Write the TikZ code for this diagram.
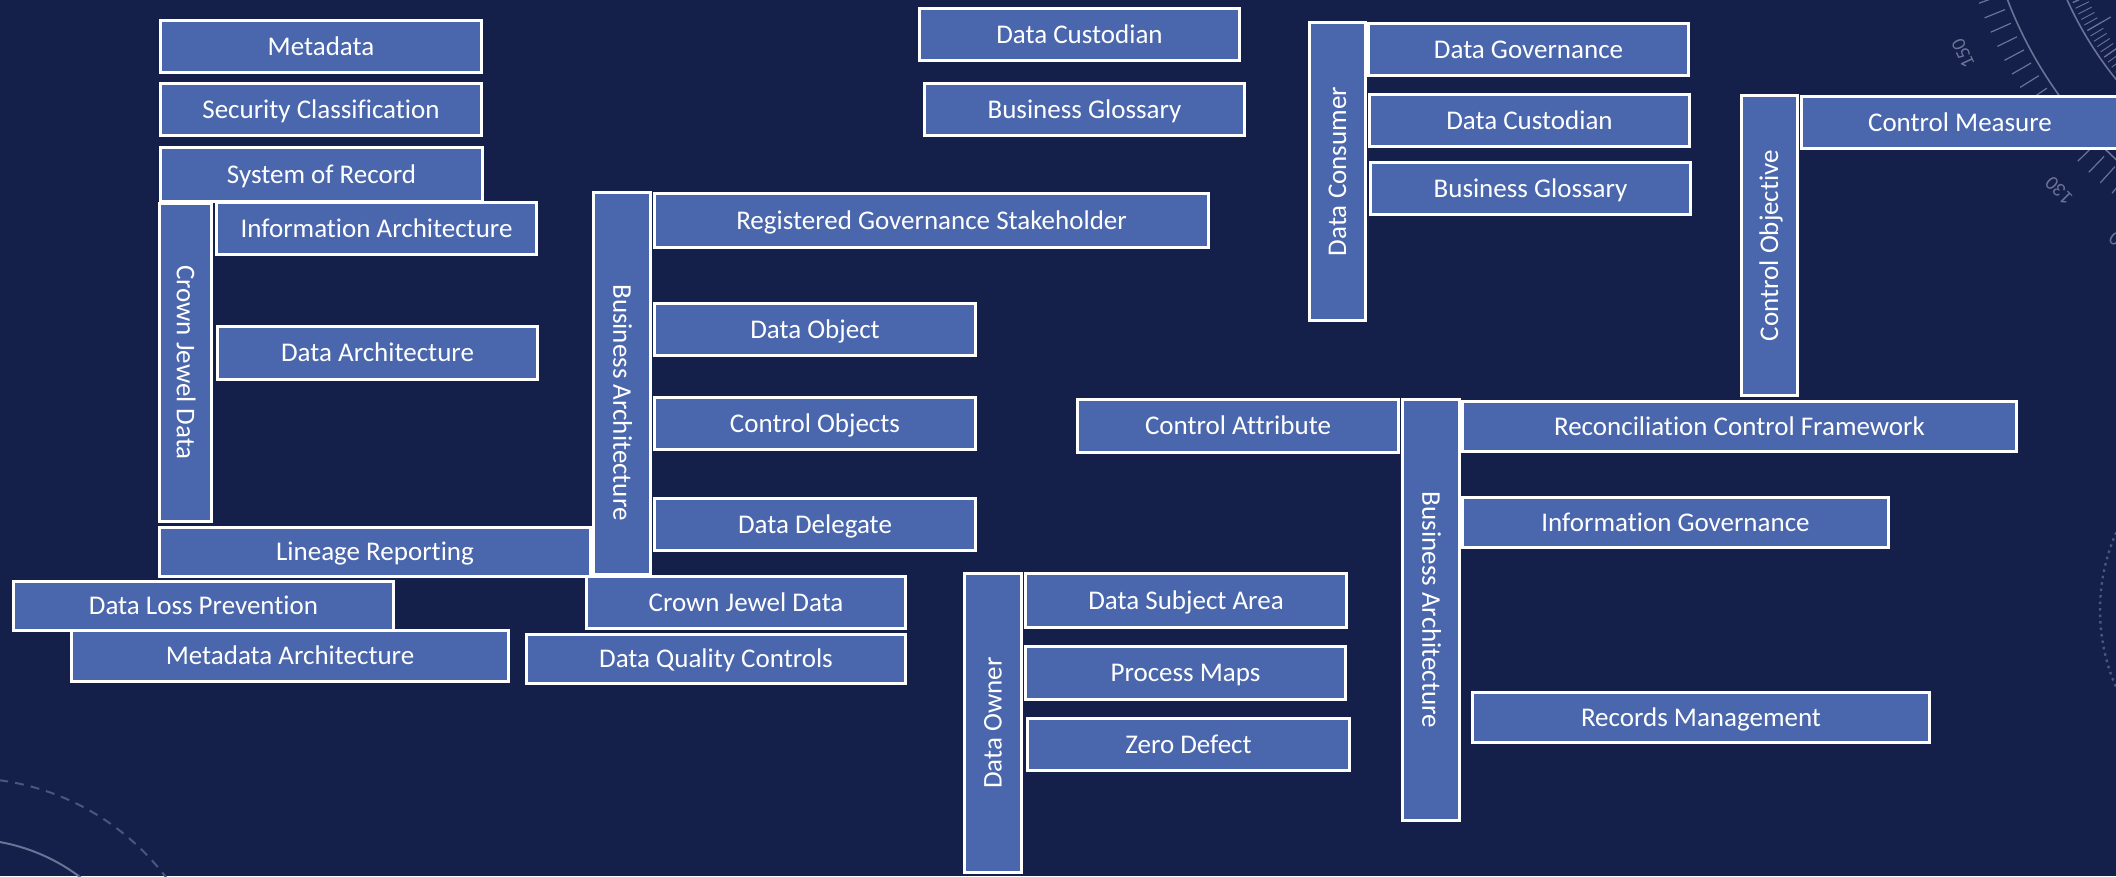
\documentclass[tikz,border=0pt]{standalone}
\usepackage{fontspec}
\setmainfont{Carlito}[Ligatures=NoCommon]
\usepackage{graphicx}
\usetikzlibrary{calc}

\definecolor{navy}{HTML}{141F4A}
\definecolor{tileblue}{HTML}{4A67AD}
\definecolor{dialline}{HTML}{6A7395}
\definecolor{dialfaint}{HTML}{4B5580}

% text box whose height is the cap height, so captions centre on their capitals
\newcommand\capt[1]{\raisebox{0pt}[0.632em][0pt]{#1}}
\newcommand\upcap[1]{\rotatebox{90}{\capt{#1}}}
\newcommand\downcap[1]{\rotatebox{-90}{\capt{#1}}}

\tikzset{
  tile/.style={draw=white, line width=3pt, fill=tileblue, text=white,
    inner sep=0pt, font=\fontsize{27}{31}\selectfont},
  caption/.style={text=white, inner sep=0pt, font=\fontsize{27}{31}\selectfont},
  ring/.style={draw=dialline, line width=1.6pt},
  ringtick/.style={draw=dialline, line width=1.2pt},
  ringnum/.style={text=dialline, inner sep=0pt, font=\fontsize{20}{24}\selectfont},
  dashring/.style={draw=dialfaint, line width=2pt, dash pattern=on 9pt off 7pt},
  dotring/.style={draw=dialfaint, line width=2.4pt, dash pattern=on 2.5pt off 4pt},
}

% \tilebox[options]{name}{x1}{y1}{x2}{y2}{caption}: outer edges in pixels
\newcommand\tilebox[7][]{%
  \node[tile, #1, minimum width={(#5-#3-3)*1pt}, minimum height={(#6-#4-3)*1pt}]
    (#2) at ({(#3+#5)/2},{(#4+#6)/2}) {#7};}

\begin{document}
\begin{tikzpicture}[x=1pt, y=-1pt]
\useasboundingbox (0,0) rectangle (2116,876);
\fill[navy] (0,0) rectangle (2116,876);

% background dials
\begin{scope}
  \clip (0,0) rectangle (2116,876);
  \coordinate (dial) at (2400,-150);
  \draw[ring] (dial) circle[radius=420pt];
  \draw[ring] (dial) circle[radius=365pt];
  \foreach \a in {120,122,...,180}
    \draw[ringtick] ($(dial)+(\a:426)$) -- ($(dial)+(\a:448)$);
  \foreach \a in {138,139,...,162}
    \draw[ringtick, line width=0.9pt] ($(dial)+(\a:346)$) -- ($(dial)+(\a:361)$);
  \foreach \a in {140,145,...,160}
    \draw[ringtick] ($(dial)+(\a:334)$) -- ($(dial)+(\a:361)$);
  \foreach \v in {120,130,150}
    \node[ringnum, rotate=265-\v] at ($(dial)+(\v+5:482)$) {\v};

  \coordinate (corner) at (-34,1029);
  \draw[dashring] (corner) circle[radius=251pt];
  \draw[ring, line width=2pt] (corner) circle[radius=190pt];

  \coordinate (edge) at (2293,610);
  \draw[dotring] (edge) circle[radius=193pt];
\end{scope}

% left column
\tilebox{meta}{159}{19}{483}{74}{\capt{Metadata}}
\tilebox{secc}{159}{82}{483}{137}{\capt{Security Classification}}
\tilebox{sor}{159}{146}{484}{203}{\capt{System of Record}}
\tilebox{cjdv}{158}{202}{213}{523}{\downcap{Crown Jewel Data}}
\tilebox{infa}{215}{201}{538}{256}{\capt{Information Architecture}}
\tilebox{darc}{216}{325}{539}{381}{\capt{Data Architecture}}
\tilebox{lin}{158}{526}{592}{578}{\capt{Lineage Reporting}}

% business architecture group
\tilebox{bizl}{592}{191}{652}{576}{}
\node[caption] (bizltxt) at (622,402.5) {\downcap{Business Architecture}};
\tilebox{rgs}{653}{192}{1210}{249}{\capt{Registered Governance Stakeholder}}
\tilebox{dobj}{653}{302}{977}{357}{\capt{Data Object}}
\tilebox{cobj}{653}{396}{977}{451}{\capt{Control Objects}}
\tilebox{ddel}{653}{497}{977}{552}{\capt{Data Delegate}}

% bottom left
\tilebox{mda}{70}{629}{510}{683}{\capt{Metadata Architecture}}
\tilebox{dlp}{12}{580}{395}{632}{\capt{Data Loss Prevention}}
\tilebox{cjdh}{585}{575}{907}{630}{\capt{Crown Jewel Data}}
\tilebox{dqc}{525}{633}{907}{685}{\capt{Data Quality Controls}}

% top middle
\tilebox{dcus1}{918}{7}{1241}{62}{\capt{Data Custodian}}
\tilebox{bgl1}{923}{82}{1246}{137}{\capt{Business Glossary}}

% data consumer group
\tilebox{dcon}{1308}{21}{1367}{322}{\upcap{Data Consumer}}
\tilebox{dgov}{1367}{22}{1690}{77}{\capt{Data Governance}}
\tilebox{dcus2}{1368}{93}{1691}{148}{\capt{Data Custodian}}
\tilebox{bgl2}{1369}{161}{1692}{216}{\capt{Business Glossary}}

% control objective group
\tilebox{cobjv}{1740}{94}{1799}{397}{\upcap{Control Objective}}
\tilebox{cmea}{1800}{95}{2120}{150}{\capt{Control Measure}}

% right business architecture group
\tilebox{catt}{1076}{398}{1400}{454}{\capt{Control Attribute}}
\tilebox{bizr}{1401}{398}{1461}{822}{\downcap{Business Architecture}}
\tilebox{rcf}{1461}{400}{2018}{453}{\capt{Reconciliation Control Framework}}
\tilebox{igov}{1461}{496}{1890}{549}{\capt{Information Governance}}
\tilebox{rmgt}{1471}{691}{1931}{744}{\capt{Records Management}}

% data owner group
\tilebox{down}{963}{572}{1023}{874}{\upcap{Data Owner}}
\tilebox{dsa}{1024}{572}{1348}{629}{\capt{Data Subject Area}}
\tilebox{pmap}{1024}{645}{1347}{701}{\capt{Process Maps}}
\tilebox{zdef}{1026}{717}{1351}{772}{\capt{Zero Defect}}
\end{tikzpicture}
\end{document}
